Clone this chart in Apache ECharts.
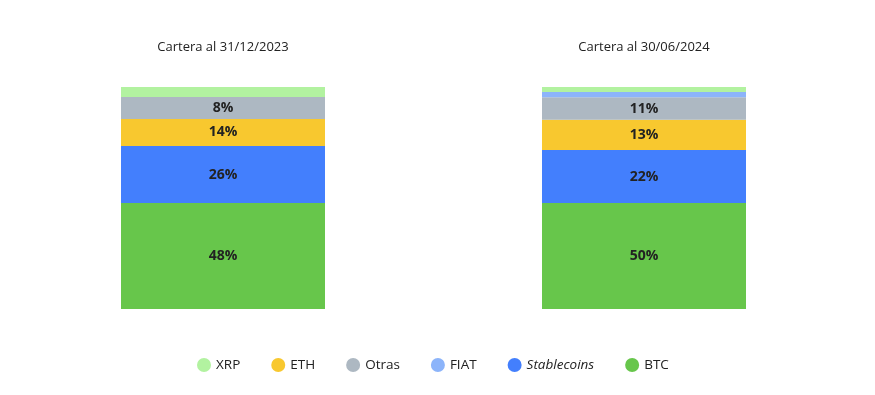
<!DOCTYPE html>
<html><head><meta charset="utf-8">
<script src="https://cdn.jsdelivr.net/npm/echarts@6/dist/echarts.min.js"></script>
<style>html,body{margin:0;padding:0;background:#fff}#c{width:875px;height:395px}</style>
</head><body><div id="c"></div>
<script>
var periods = ['Cartera al 31/12/2023', 'Cartera al 30/06/2024'];
var seriesNames = ['BTC', 'Stablecoins', 'ETH', 'Otras', 'FIAT', 'XRP'];
// segment shares as drawn (stacked bottom to top)
var btc = [47.7, 47.7];
var stablecoins = [25.7, 23.9];
var eth = [12.2, 13.6];
var otras = [9.9, 10.2];
var fiat = [0, 2.3];
var xrp = [4.5, 2.3];
// printed labels
var btcLabels = ['48%', '50%'];
var stableLabels = ['26%', '22%'];
var ethLabels = ['14%', '13%'];
var otrasLabels = ['8%', '11%'];
var legendOrder = ['XRP', 'ETH', 'Otras', 'FIAT', 'Stablecoins', 'BTC'];
var colors = {BTC:'#67c64b', Stablecoins:'#437ffd', FIAT:'#8cb4fa', Otras:'#adb8c2', ETH:'#f8c82f', XRP:'#b2f2a0'};

var values = {BTC: btc, Stablecoins: stablecoins, FIAT: fiat, Otras: otras, ETH: eth, XRP: xrp};
var labels = {BTC: btcLabels, Stablecoins: stableLabels, Otras: otrasLabels, ETH: ethLabels};

var chart = echarts.init(document.getElementById('c'));
var series = seriesNames.map(function (n) {
  var lab = labels[n];
  return {
    name: n, type: 'bar', stack: 'total', barWidth: 204,
    data: values[n],
    itemStyle: {color: colors[n]},
    label: {
      show: !!lab, position: 'inside',
      fontFamily: 'Open Sans', fontWeight: 'bold', fontSize: 14, color: '#222',
      formatter: function (p) { return lab ? lab[p.dataIndex] : ''; }
    }
  };
});

chart.setOption({
  animation: false,
  color: seriesNames.map(function (n) { return colors[n]; }),
  grid: {left: 12.5, right: 20.5, top: 87, bottom: 86},
  xAxis: {
    type: 'category', data: periods, position: 'top',
    axisLine: {show: false}, axisTick: {show: false},
    axisLabel: {margin: 33, fontFamily: 'Open Sans', fontSize: 13, color: '#222'}
  },
  yAxis: {type: 'value', min: 0, max: 100, show: false, splitLine: {show: false}},
  legend: {
    data: legendOrder, bottom: 18, left: 192, icon: 'circle',
    itemWidth: 14, itemHeight: 14, itemGap: 31,
    textStyle: {fontFamily: 'Open Sans', fontSize: 13.5, color: '#222',
      rich: {i: {fontStyle: 'italic', fontFamily: 'Open Sans', fontSize: 13.5, color: '#222'}}},
    formatter: function (n) { return n === 'Stablecoins' ? '{i|' + n + '}' : n; }
  },
  series: series
});
</script></body></html>
